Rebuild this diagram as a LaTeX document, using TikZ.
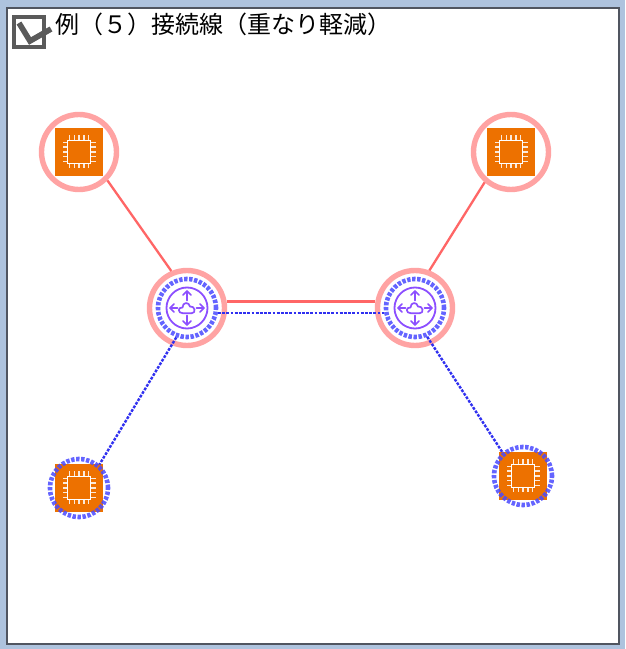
\documentclass[tikz,border=0pt]{standalone}
\usepackage{fontspec}
\newfontfamily\cjk{Noto Sans CJK JP}
\definecolor{bgblue}{HTML}{AEC3DE}
\definecolor{framegrey}{HTML}{505560}
\definecolor{icongrey}{HTML}{5A5A5A}
\definecolor{iconorange}{HTML}{ED7100}
\definecolor{iconpurple}{HTML}{8C4FFF}
\definecolor{redring}{HTML}{FFA3A3}
\definecolor{redlink}{HTML}{FF6666}
\definecolor{bluering}{HTML}{4A4AFF}
\definecolor{bluelink}{HTML}{3030F0}
\tikzset{
  x=1pt,y=1pt,
  ringred/.style={circle,draw=redring,line width=5.4pt,minimum size=75pt,inner sep=0pt},
  ringblue/.style={circle,draw=bluering,draw opacity=.85,line width=4.6pt,minimum size=58pt,inner sep=0pt,dash pattern=on 3.4pt off 1.6pt},
  redlink/.style={draw=redlink,line width=2.3pt},
  bluelink/.style={draw=bluelink,line width=2.4pt,dash pattern=on 2.8pt off 1.4pt},
  ec2box/.style={fill=iconorange,minimum size=48pt,inner sep=0pt,outer sep=0pt},
  chip/.pic={
    \draw[white,line width=1.6pt] (-11.5,-11.5) rectangle (11.5,11.5);
    \foreach \t in {-9.6,-4.8,0,4.8,9.6}{
      \draw[white,opacity=.85,line width=1.4pt] (\t,12) -- (\t,16.5) (\t,-12) -- (\t,-16.5) (12,\t) -- (16.5,\t) (-12,\t) -- (-16.5,\t);
    }
  },
  router/.pic={
    \draw[iconpurple,line width=1.8pt] (0,0) circle (20.5);
    \begin{scope}[iconpurple,line width=1.7pt,line cap=round,line join=round]
      \draw (0,7.5) -- (0,17) (-4,13) -- (0,17) -- (4,13);
      \draw (0,-7.5) -- (0,-17) (-4,-13) -- (0,-17) -- (4,-13);
      \draw (-9.5,0) -- (-17,0) (-13,4) -- (-17,0) -- (-13,-4);
      \draw (9.5,0) -- (17,0) (13,4) -- (17,0) -- (13,-4);
      \draw (-4,-5.3) .. controls (-9.5,-5.3) and (-9.5,1) .. (-4.5,0.5)
            .. controls (-4.5,6) and (2,6.5) .. (3,1.5)
            .. controls (8,2.5) and (9.5,-5.3) .. (4.5,-5.3) -- cycle;
    \end{scope}
  }
}
\begin{document}
\begin{tikzpicture}
  \useasboundingbox (0,0) rectangle (625,649);
  \fill[bgblue] (0,0) rectangle (625,649);
  \draw[framegrey,fill=white,line width=1.6pt] (7,5) rectangle (619,641);

  % title icon and title
  \draw[icongrey,line width=4.4pt] (14,602) rectangle (44,632);
  \draw[icongrey,line width=5.6pt] (19,626) -- (30,608) -- (51,620);
  \node[anchor=west,inner sep=0pt,font=\cjk\fontsize{24}{24}\selectfont] (title) at (55.5,625) {例（５）接続線（重なり軽減）};

  % EC2 boxes
  \node[ec2box] (tlbox) at (79,497) {};
  \node[ec2box] (trbox) at (511,497) {};
  \node[ec2box] (blbox) at (79,161) {};
  \node[ec2box] (brbox) at (523,173) {};
  \pic at (tlbox) {chip};
  \pic at (trbox) {chip};
  \pic at (blbox) {chip};
  \pic at (brbox) {chip};

  % routers
  \coordinate (routerA) at (187,341);
  \coordinate (routerB) at (415,341);
  \pic at (routerA) {router};
  \pic at (routerB) {router};

  % rings
  \node[ringred] (tl) at (tlbox) {};
  \node[ringred] (tr) at (trbox) {};
  \node[ringred] (r1) at (routerA) {};
  \node[ringred] (r2) at (routerB) {};
  \node[ringblue] (b1) at (routerA) {};
  \node[ringblue] (b2) at (routerB) {};
  \node[ringblue] (bl) at (blbox) {};
  \node[ringblue] (br) at (brbox) {};

  % connectors
  \draw[redlink] (tl.-45) -- (r1.113);
  \draw[redlink] (tr.229) -- (r2.69);
  \draw[redlink,line width=3pt] (r1.10) -- (r2.170);
  \draw[bluelink] (b1.-9.3) -- (b2.189.3);
  \draw[bluelink] (b1.250) -- (bl.49);
  \draw[bluelink] (b2.-67) -- (br.131);
\end{tikzpicture}
\end{document}
